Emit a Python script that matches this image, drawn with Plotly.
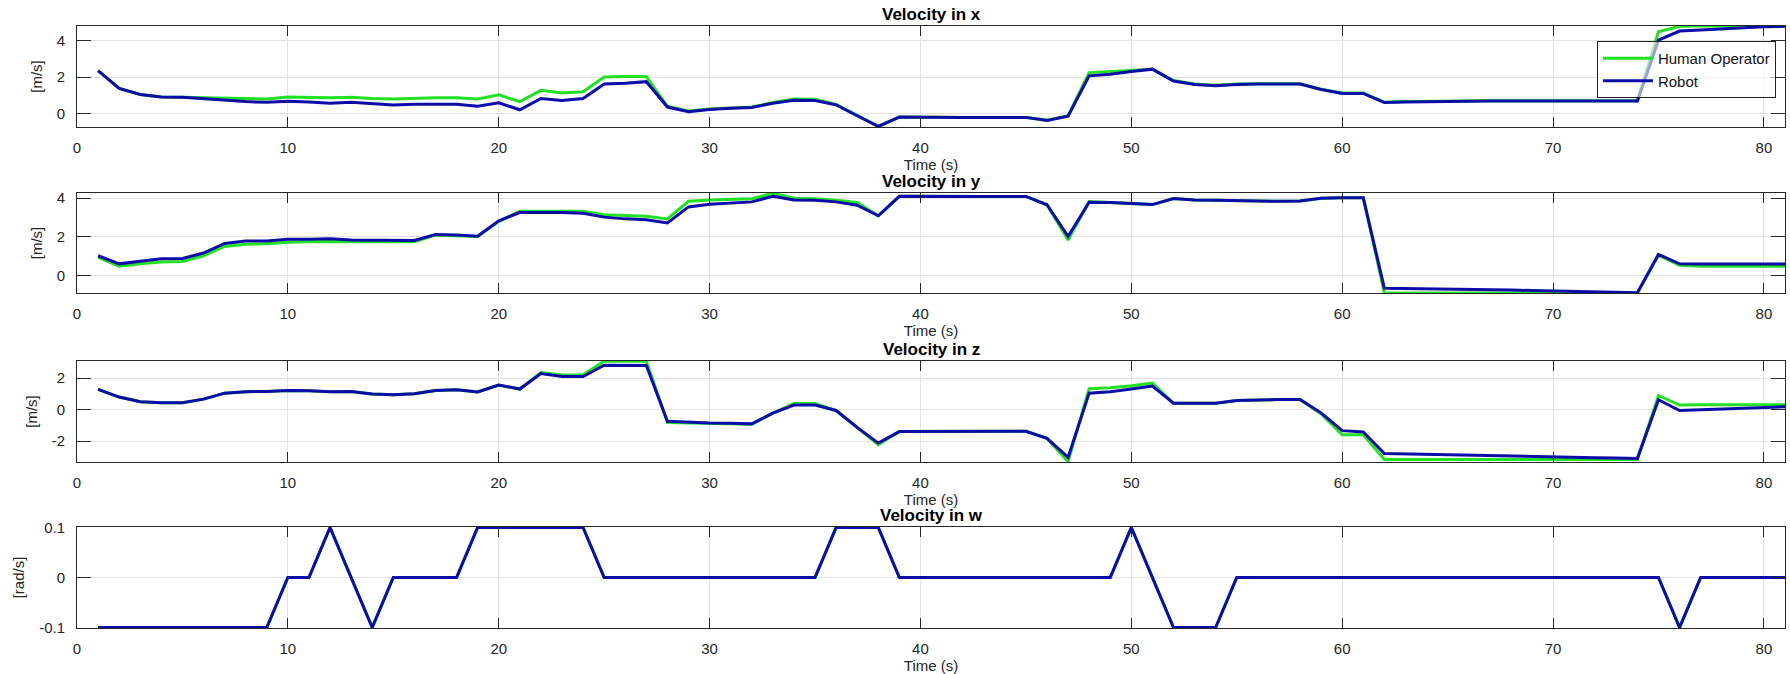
import plotly.graph_objects as go

# ---------------- data ----------------
t = list(range(1, 82))

vx_human = [2.36, 1.38, 1.04, 0.91, 0.89, 0.86, 0.84, 0.82, 0.80, 0.91,
            0.89, 0.86, 0.89, 0.82, 0.80, 0.84, 0.86, 0.86, 0.80, 1.02,
            0.65, 1.27, 1.12, 1.19, 2.01, 2.03, 2.03, 0.39, 0.13, 0.24,
            0.30, 0.35, 0.60, 0.80, 0.78, 0.49, -0.11, -0.73, -0.20, -0.22,
            -0.22, -0.22, -0.22, -0.22, -0.22, -0.37, -0.13, 2.25, 2.30, 2.38,
            2.44, 1.81, 1.62, 1.55, 1.62, 1.64, 1.64, 1.64, 1.34, 1.12,
            1.12, 0.62, 0.65, 0.67, 0.68, 0.69, 0.70, 0.70, 0.70, 0.70,
            0.70, 0.70, 0.70, 0.70, 4.50, 4.80, 4.82, 4.82, 4.80, 4.80,
            4.80]
vx_robot = [2.36, 1.38, 1.04, 0.91, 0.89, 0.80, 0.73, 0.65, 0.61, 0.67,
            0.63, 0.56, 0.61, 0.52, 0.47, 0.50, 0.48, 0.50, 0.39, 0.58,
            0.20, 0.82, 0.71, 0.82, 1.62, 1.66, 1.75, 0.35, 0.09, 0.22,
            0.28, 0.33, 0.56, 0.73, 0.71, 0.47, -0.13, -0.71, -0.20, -0.22,
            -0.22, -0.22, -0.22, -0.22, -0.22, -0.39, -0.15, 2.07, 2.16, 2.31,
            2.44, 1.79, 1.60, 1.53, 1.60, 1.62, 1.62, 1.62, 1.32, 1.10,
            1.10, 0.60, 0.63, 0.65, 0.66, 0.67, 0.68, 0.68, 0.68, 0.68,
            0.68, 0.68, 0.68, 0.68, 4.04, 4.54, 4.60, 4.67, 4.72, 4.78,
            4.80]

vy_human = [0.93, 0.48, 0.60, 0.69, 0.72, 1.02, 1.50, 1.62, 1.64, 1.72,
            1.74, 1.76, 1.74, 1.74, 1.74, 1.74, 2.09, 2.07, 2.02, 2.79,
            3.33, 3.33, 3.33, 3.33, 3.14, 3.09, 3.07, 2.93, 3.84, 3.91,
            3.95, 3.97, 4.26, 4.00, 3.97, 3.90, 3.78, 3.09, 4.10, 4.09,
            4.09, 4.09, 4.09, 4.09, 4.09, 3.66, 1.84, 3.83, 3.78, 3.72,
            3.67, 3.98, 3.91, 3.90, 3.88, 3.84, 3.84, 3.86, 4.00, 4.02,
            4.02, -0.91, -0.91, -0.91, -0.91, -0.91, -0.91, -0.91, -0.91, -0.91,
            -0.91, -0.91, -0.91, -0.91, 1.05, 0.52, 0.47, 0.47, 0.47, 0.47,
            0.47]
vy_robot = [1.02, 0.60, 0.74, 0.86, 0.88, 1.16, 1.66, 1.78, 1.79, 1.88,
            1.88, 1.90, 1.84, 1.84, 1.84, 1.81, 2.12, 2.10, 2.03, 2.83,
            3.26, 3.26, 3.26, 3.22, 3.02, 2.93, 2.88, 2.72, 3.55, 3.69,
            3.74, 3.81, 4.10, 3.91, 3.90, 3.81, 3.64, 3.09, 4.10, 4.09,
            4.09, 4.09, 4.09, 4.09, 4.09, 3.66, 2.02, 3.79, 3.78, 3.72,
            3.67, 3.98, 3.91, 3.90, 3.88, 3.84, 3.84, 3.86, 4.00, 4.02,
            4.02, -0.66, -0.67, -0.69, -0.70, -0.72, -0.74, -0.76, -0.78, -0.80,
            -0.82, -0.84, -0.87, -0.90, 1.09, 0.60, 0.59, 0.59, 0.59, 0.59,
            0.59]

vz_human = [1.28, 0.79, 0.49, 0.43, 0.43, 0.66, 1.04, 1.13, 1.15, 1.21,
            1.19, 1.13, 1.15, 0.98, 0.94, 1.00, 1.21, 1.26, 1.11, 1.55,
            1.30, 2.34, 2.19, 2.21, 3.07, 3.08, 3.07, -0.83, -0.85, -0.87,
            -0.89, -0.93, -0.23, 0.38, 0.38, -0.06, -1.15, -2.23, -1.40, -1.40,
            -1.38, -1.38, -1.38, -1.38, -1.38, -1.83, -3.30, 1.32, 1.38, 1.51,
            1.68, 0.40, 0.40, 0.40, 0.57, 0.62, 0.64, 0.64, -0.28, -1.60,
            -1.60, -3.17, -3.17, -3.17, -3.17, -3.17, -3.17, -3.17, -3.17, -3.17,
            -3.17, -3.17, -3.17, -3.17, 0.89, 0.28, 0.30, 0.30, 0.30, 0.30,
            0.30]
vz_robot = [1.28, 0.79, 0.49, 0.43, 0.43, 0.66, 1.04, 1.13, 1.15, 1.21,
            1.19, 1.13, 1.15, 0.98, 0.94, 1.00, 1.21, 1.26, 1.11, 1.55,
            1.30, 2.28, 2.09, 2.09, 2.81, 2.81, 2.79, -0.74, -0.81, -0.85,
            -0.87, -0.91, -0.23, 0.28, 0.28, -0.06, -1.13, -2.13, -1.40, -1.40,
            -1.38, -1.38, -1.38, -1.38, -1.38, -1.83, -3.04, 1.04, 1.13, 1.30,
            1.49, 0.40, 0.40, 0.40, 0.57, 0.62, 0.64, 0.64, -0.21, -1.34,
            -1.43, -2.79, -2.82, -2.86, -2.89, -2.92, -2.95, -2.97, -3.00, -3.02,
            -3.04, -3.06, -3.08, -3.10, 0.62, -0.06, -0.02, 0.03, 0.08, 0.12,
            0.17]

vw_human = [-0.1, -0.1, -0.1, -0.1, -0.1, -0.1, -0.1, -0.1, -0.1, 0.0,
            0.0, 0.1, 0.0, -0.1, 0.0, 0.0, 0.0, 0.0, 0.1, 0.1,
            0.1, 0.1, 0.1, 0.1, 0.0, 0.0, 0.0, 0.0, 0.0, 0.0,
            0.0, 0.0, 0.0, 0.0, 0.0, 0.1, 0.1, 0.1, 0.0, 0.0,
            0.0, 0.0, 0.0, 0.0, 0.0, 0.0, 0.0, 0.0, 0.0, 0.1,
            0.0, -0.1, -0.1, -0.1, 0.0, 0.0, 0.0, 0.0, 0.0, 0.0,
            0.0, 0.0, 0.0, 0.0, 0.0, 0.0, 0.0, 0.0, 0.0, 0.0,
            0.0, 0.0, 0.0, 0.0, 0.0, -0.1, 0.0, 0.0, 0.0, 0.0,
            0.0]
vw_robot = list(vw_human)

titles = ["Velocity in x", "Velocity in y", "Velocity in z", "Velocity in w"]
y_units = ["[m/s]", "[m/s]", "[m/s]", "[rad/s]"]
y_ranges = [[-0.75, 4.82], [-0.91, 4.27], [-3.33, 3.08], [-0.101, 0.101]]
y_tickvals = [[0, 2, 4], [0, 2, 4], [-2, 0, 2], [-0.1, 0, 0.1]]
y_ticktext = [["0", "2", "4"], ["0", "2", "4"], ["-2", "0", "2"], ["-0.1", "0", "0.1"]]
x_tickvals = [0, 10, 20, 30, 40, 50, 60, 70, 80]
x_label = "Time (s)"
series_names = ["Human Operator", "Robot"]

human = [vx_human, vy_human, vz_human, vw_human]
robot = [vx_robot, vy_robot, vz_robot, vw_robot]

# ---------------- style ----------------
FONT = "Liberation Sans, Arial, Helvetica, sans-serif"
GREEN = "#22E022"
BLUE = "#0C0CA8"
AXC = "#262626"
GRID = "#E3E3E3"

W, H = 1790, 674
ML, MR, MT, MB = 77, 5, 26, 46
ph = H - MT - MB
tops = [26, 193, 361, 527]
bots = [127, 293, 462, 628]
domains = [[(H - MB - b) / ph, (H - MB - tp) / ph] for tp, b in zip(tops, bots)]

fig = go.Figure()
layout = dict(
    width=W, height=H,
    margin=dict(l=ML, r=MR, t=MT, b=MB, autoexpand=False),
    paper_bgcolor="white", plot_bgcolor="white",
    font=dict(family=FONT, size=14, color=AXC),
    showlegend=True,
    legend=dict(
        x=0.9947, y=domains[0][1] - 0.025, xanchor="right", yanchor="top",
        bgcolor="rgba(255,255,255,0.6)", bordercolor="#222222", borderwidth=1,
        font=dict(family=FONT, size=15, color="#111111"),
        tracegroupgap=0, itemwidth=50,
    ),
    annotations=[],
)

for i in range(4):
    xa = "x" if i == 0 else f"x{i+1}"
    ya = "y" if i == 0 else f"y{i+1}"
    fig.add_trace(go.Scatter(x=t, y=human[i], mode="lines", name=series_names[0],
                             line=dict(color=GREEN, width=3), xaxis=xa, yaxis=ya,
                             showlegend=(i == 0), legendgroup="h"))
    fig.add_trace(go.Scatter(x=t, y=robot[i], mode="lines", name=series_names[1],
                             line=dict(color=BLUE, width=3), xaxis=xa, yaxis=ya,
                             showlegend=(i == 0), legendgroup="r"))
    xkey = "xaxis" if i == 0 else f"xaxis{i+1}"
    ykey = "yaxis" if i == 0 else f"yaxis{i+1}"
    layout[xkey] = dict(
        domain=[0, 1], anchor=ya, range=[0, 81], automargin=False,
        tickvals=x_tickvals, ticks="inside", ticklen=10, tickwidth=1, tickcolor=AXC,
        showline=True, linecolor=AXC, linewidth=1, mirror="ticks",
        showgrid=True, gridcolor=GRID, gridwidth=1, zeroline=False,
        tickfont=dict(family=FONT, size=15, color=AXC),
        ticklabelstandoff=7,
        title=dict(text=x_label, font=dict(family=FONT, size=15, color=AXC), standoff=1),
    )
    layout[ykey] = dict(
        domain=domains[i], anchor=xa, range=y_ranges[i], automargin=False,
        tickvals=y_tickvals[i], ticktext=y_ticktext[i],
        ticks="inside", ticklen=14, tickwidth=1, tickcolor=AXC,
        showline=True, linecolor=AXC, linewidth=1, mirror="ticks",
        showgrid=True, gridcolor=GRID, gridwidth=1, zeroline=False,
        tickfont=dict(family=FONT, size=15, color=AXC),
        ticklabelstandoff=8,
        title=dict(text=y_units[i], font=dict(family=FONT, size=15, color=AXC), standoff=10),
    )
    layout["annotations"].append(dict(
        text=f"<b>{titles[i]}</b>", x=0.5, xref="paper", y=domains[i][1], yref="paper",
        xanchor="center", yanchor="bottom", yshift=0, showarrow=False,
        font=dict(family=FONT, size=17, color="#000000"),
    ))

fig.update_layout(**layout)
fig.write_html(
    "out.html",
    config={"displayModeBar": False},
    post_script="document.body.style.margin='0px';document.body.style.overflow='hidden';",
)
